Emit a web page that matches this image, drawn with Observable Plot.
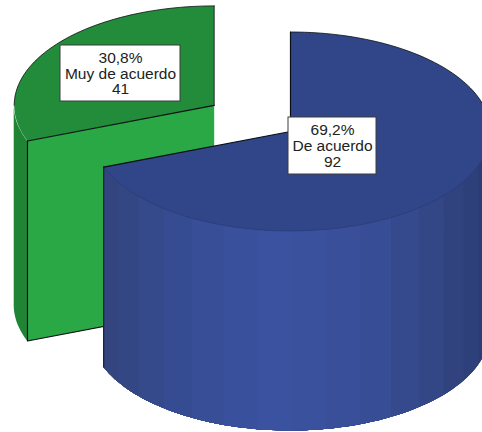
<!DOCTYPE html>
<html>
<head>
<meta charset="utf-8">
<script src="https://cdn.jsdelivr.net/npm/d3@7"></script>
<script src="https://cdn.jsdelivr.net/npm/@observablehq/plot@0.6"></script>
<style>
  html, body { margin: 0; padding: 0; background: #fff; overflow: hidden; }
  svg { display: block; }
</style>
</head>
<body>
<div id="chart"></div>
<script>
// Survey responses
const categories = ["De acuerdo", "Muy de acuerdo"];
const counts = [92, 41];

// Slice colours: top surface, cut face, outer wall
const blueTop = "#304688";
const greenTop = "#238c3a";
const greenFace = "#2aa845";
const greenWall = "#1f8535";
const edgeColor = "#0b0f14";

// Shading of the blue wall, from its right end round to its left end
const blueWallShades = [
  "#2a3a72", "#2c3c75", "#2e4079", "#30437f", "#334787", "#35498d",
  "#374d95", "#394f99", "#3a529e", "#3a529f", "#39519c", "#384f98",
  "#364c92", "#354a8b", "#344785", "#33447f"
];

// Pie geometry, in pixels
const width = 482, height = 432;
const centerX = 290, centerY = 131, radiusX = 200, radiusY = 99.5;
const depth = 2.01;      // wall height, in units of the tilted radius
const explode = 0.463;   // how far the second slice is pulled out

// Slice angles, clockwise from twelve o'clock
const total = d3.sum(counts);
const blueEnd = 360 * counts[0] / total;
const rad = (a) => a * Math.PI / 180;
const greenMid = (blueEnd + 360) / 2;
const greenOrigin = [explode * Math.sin(rad(greenMid)), -explode * Math.cos(rad(greenMid))];
const blueOrigin = [0, 0];

const rim = ([ox, oy], a, drop = 0) => ({
  x: ox + Math.sin(rad(a)),
  y: oy - Math.cos(rad(a)) + drop
});
const sweep = (a0, a1) => {
  const n = Math.max(1, Math.ceil(Math.abs(a1 - a0) / 2));
  return d3.range(n + 1).map((i) => a0 + (a1 - a0) * i / n);
};
const arc = (origin, a0, a1, drop = 0) => sweep(a0, a1).map((a) => rim(origin, a, drop));
const centre = ([ox, oy], drop = 0) => ({x: ox, y: oy + drop});
const wedge = (origin, a0, a1) => [centre(origin), ...arc(origin, a0, a1)];

// Wall strips of the blue slice; each runs on under the next so no seam shows
const bandStep = (blueEnd - 90) / blueWallShades.length;
const wallRows = blueWallShades.flatMap((shade, i) =>
  sweep(90 + i * bandStep, blueEnd).map((a) => {
    const p = rim(blueOrigin, a);
    return {x: p.x, y1: p.y, y2: p.y + depth, band: i, shade};
  })
);

// Outer wall of the green slice, visible between its cut edge and the left extreme
const greenWallRows = sweep(blueEnd, 270).map((a) => {
  const p = rim(greenOrigin, a);
  return {x: p.x, y1: p.y, y2: p.y + depth};
});

// Cut face of the green slice
const gA = rim(greenOrigin, blueEnd);
const gC = centre(greenOrigin);
const greenFacePts = [gA, gC, centre(greenOrigin, depth), rim(greenOrigin, blueEnd, depth)];
const bA = rim(blueOrigin, blueEnd);

// Value labels
const percent = (v) => (100 * v / total).toFixed(1).replace(".", ",") + "%";
const labelText = categories.map((c, i) => `${percent(counts[i])}\n${c}\n${counts[i]}`);
const labelBoxes = [
  {cx: 332, cy: 145.5, w: 88, h: 57},
  {cx: 120, cy: 73, w: 120, h: 56}
];
const toX = (px) => (px - centerX) / radiusX;
const toY = (py) => (py - centerY) / radiusY;
const labelRows = labelText.map((text, i) => {
  const b = labelBoxes[i];
  return {
    text,
    x: toX(b.cx), y: toY(b.cy),
    x1: toX(b.cx - b.w / 2), x2: toX(b.cx + b.w / 2),
    y1: toY(b.cy - b.h / 2), y2: toY(b.cy + b.h / 2)
  };
});

const outline = (pts, opts = {}) => Plot.line(pts, {x: "x", y: "y", stroke: edgeColor, strokeWidth: 1.1, ...opts});

const chart = Plot.plot({
  width, height,
  margin: 0,
  x: {axis: null, domain: [toX(0), toX(width)], range: [0, width]},
  y: {axis: null, domain: [toY(0), toY(height)], range: [0, height]},
  marks: [
    // Pulled-out green slice
    Plot.areaY(greenWallRows, {x: "x", y1: "y1", y2: "y2", fill: greenWall}),
    Plot.line(greenFacePts, {x: "x", y: "y", fill: greenFace, stroke: "none"}),
    Plot.line(wedge(greenOrigin, blueEnd, 360), {x: "x", y: "y", fill: greenTop, stroke: "none"}),
    outline(arc(greenOrigin, 270, 360), {strokeWidth: 0.8}),
    outline([rim(greenOrigin, 360), gC], {strokeWidth: 0.8}),
    outline([gA, gC], {strokeWidth: 1.2}),
    outline([gA, rim(greenOrigin, blueEnd, depth), centre(greenOrigin, depth)], {strokeWidth: 1.2}),

    // Blue slice
    Plot.areaY(wallRows, {x: "x", y1: "y1", y2: "y2", z: "band", fill: "shade"}),
    Plot.line(wedge(blueOrigin, 0, blueEnd), {x: "x", y: "y", fill: blueTop, stroke: "none"}),
    outline(arc(blueOrigin, 0, 90), {strokeWidth: 0.8}),
    outline(arc(blueOrigin, 90, blueEnd), {stroke: "#2a3b76", strokeWidth: 0.7}),
    outline([rim(blueOrigin, 0), centre(blueOrigin), bA], {strokeWidth: 1.2}),
    outline([bA, rim(blueOrigin, blueEnd, depth)], {strokeWidth: 1, strokeOpacity: 0.8}),

    // Value labels
    Plot.rect(labelRows, {x1: "x1", x2: "x2", y1: "y1", y2: "y2", fill: "#fff", stroke: "#3c3c3c", strokeWidth: 1}),
    Plot.text(labelRows, {
      x: "x", y: "y", text: "text",
      fontFamily: "Liberation Sans", fontSize: 15.5, lineHeight: 1.02,
      fill: "#222"
    })
  ]
});

document.getElementById("chart").append(chart);
</script>
</body>
</html>
